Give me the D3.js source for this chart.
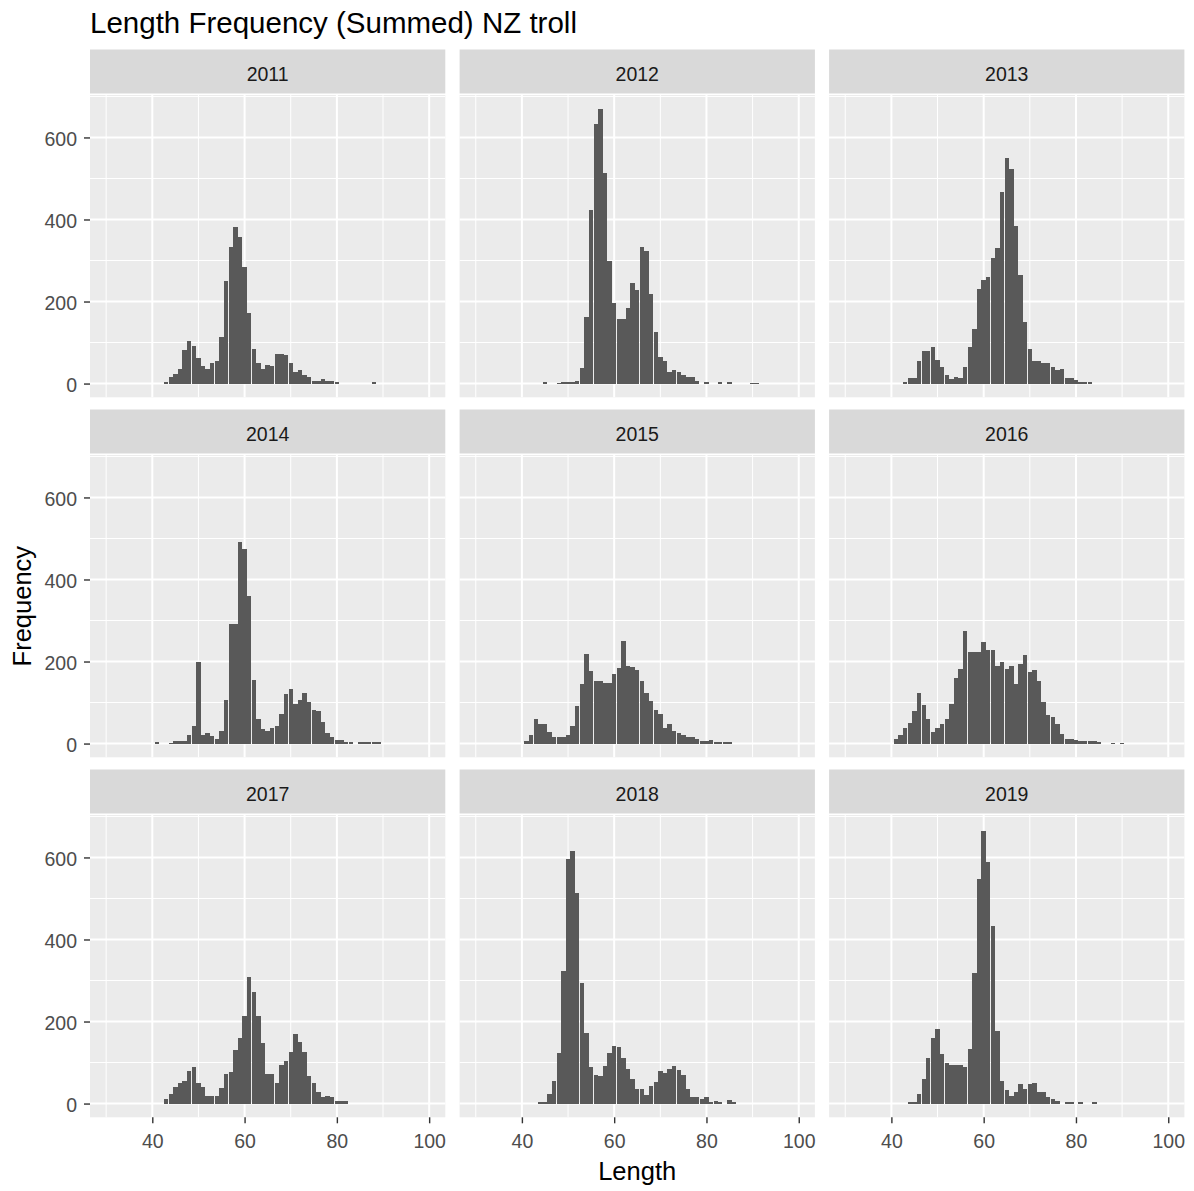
<!DOCTYPE html>
<html>
<head>
<meta charset="utf-8">
<script src="https://cdn.jsdelivr.net/npm/d3@7"></script>
<style>
  body { margin: 0; background: #ffffff; }
  text { font-family: "Liberation Sans", Arial, sans-serif; }
</style>
</head>
<body>
<svg id="chart" width="1194" height="1191"></svg>
<script>
// Facet labels, one panel per year
const years = ["2011", "2012", "2013", "2014", "2015", "2016", "2017", "2018", "2019"];

// Summed length frequencies per year: [length, frequency]
const freq2011 = [[43,4],[44,15],[45,24],[46,36],[47,81],[48,103],[49,91],[50,63],[51,42],[52,36],[53,50],[54,54],[55,114],[56,249],[57,333],[58,381],[59,358],[60,284],[61,173],[62,85],[63,50],[64,36],[65,46],[66,42],[67,72],[68,72],[69,69],[70,50],[71,28],[72,32],[73,21],[74,16],[75,6],[76,6],[77,10],[78,6],[79,6],[80,5],[88,5]];
const freq2012 = [[45,3],[48,2],[49,3],[50,3],[51,4],[52,7],[53,38],[54,162],[55,422],[56,633],[57,670],[58,514],[59,299],[60,196],[61,158],[62,158],[63,184],[64,245],[65,229],[66,333],[67,324],[68,219],[69,126],[70,65],[71,56],[72,28],[73,32],[74,28],[75,21],[76,16],[77,16],[78,6],[80,3],[83,3],[85,3],[90,2],[91,2]];
const freq2013 = [[43,5],[44,14],[45,14],[46,54],[47,79],[48,79],[49,89],[50,58],[51,40],[52,20],[53,10],[54,17],[55,14],[56,40],[57,89],[58,133],[59,230],[60,252],[61,261],[62,306],[63,331],[64,466],[65,549],[66,522],[67,384],[68,265],[69,150],[70,84],[71,54],[72,54],[73,50],[74,50],[75,40],[76,32],[77,35],[78,14],[79,14],[80,9],[81,5],[82,5],[83,5]];
const freq2014 = [[41,3],[44,2],[45,7],[46,7],[47,7],[48,22],[49,43],[50,198],[51,22],[52,26],[53,18],[54,12],[55,31],[56,106],[57,291],[58,291],[59,491],[60,474],[61,359],[62,155],[63,59],[64,35],[65,31],[66,39],[67,43],[68,71],[69,122],[70,132],[71,97],[72,105],[73,124],[74,101],[75,83],[76,79],[77,53],[78,26],[79,16],[80,8],[81,8],[82,4],[83,4],[85,3],[86,3],[87,3],[88,3],[89,3]];
const freq2015 = [[41,6],[42,20],[43,60],[44,47],[45,47],[46,28],[47,16],[48,16],[49,16],[50,22],[51,42],[52,91],[53,144],[54,219],[55,178],[56,152],[57,152],[58,148],[59,148],[60,170],[61,184],[62,250],[63,188],[64,187],[65,180],[66,152],[67,123],[68,104],[69,83],[70,71],[71,38],[72,47],[73,30],[74,26],[75,22],[76,16],[77,16],[78,12],[79,6],[80,6],[81,8],[82,3],[83,3],[84,3],[85,3]];
const freq2016 = [[41,12],[42,22],[43,39],[44,51],[45,79],[46,123],[47,95],[48,61],[49,29],[50,39],[51,47],[52,61],[53,96],[54,159],[55,181],[56,274],[57,224],[58,224],[59,224],[60,247],[61,229],[62,229],[63,190],[64,198],[65,181],[66,190],[67,145],[68,194],[69,216],[70,175],[71,180],[72,153],[73,102],[74,69],[75,65],[76,47],[77,24],[78,12],[79,10],[80,8],[81,6],[82,6],[83,6],[84,7],[85,4],[88,2],[90,2]];
const freq2017 = [[43,10],[44,24],[45,41],[46,51],[47,55],[48,80],[49,90],[50,51],[51,41],[52,19],[53,19],[54,19],[55,37],[56,73],[57,77],[58,130],[59,161],[60,214],[61,308],[62,271],[63,214],[64,147],[65,72],[66,72],[67,51],[68,94],[69,104],[70,126],[71,170],[72,151],[73,126],[74,68],[75,49],[76,27],[77,16],[78,19],[79,15],[80,7],[81,6],[82,6]];
const freq2018 = [[44,3],[45,3],[46,23],[47,54],[48,124],[49,322],[50,596],[51,615],[52,513],[53,295],[54,173],[55,88],[56,70],[57,66],[58,92],[59,123],[60,141],[61,137],[62,110],[63,84],[64,61],[65,35],[66,35],[67,21],[68,43],[69,53],[70,80],[71,74],[72,84],[73,92],[74,81],[75,69],[76,35],[77,17],[78,17],[79,11],[80,17],[81,3],[82,7],[83,3],[85,8],[86,3]];
const freq2019 = [[44,5],[45,5],[46,24],[47,59],[48,112],[49,161],[50,182],[51,120],[52,100],[53,93],[54,93],[55,93],[56,89],[57,134],[58,319],[59,547],[60,665],[61,588],[62,434],[63,178],[64,55],[65,32],[66,19],[67,28],[68,47],[69,36],[70,47],[71,51],[72,28],[73,28],[74,15],[75,10],[76,6],[78,4],[79,4],[81,4],[84,4]];

const series = [freq2011, freq2012, freq2013, freq2014, freq2015, freq2016, freq2017, freq2018, freq2019];

// Axis breaks
const xLimits = [30, 100];
const xTicks = [40, 60, 80, 100];
const xMinor = [30, 50, 70, 90];
const yTicks = [0, 200, 400, 600];
const yMinor = [100, 300, 500, 700];

const chartTitle = "Length Frequency (Summed) NZ troll";
const xTitle = "Length";
const yTitle = "Frequency";

// Layout
const colX = [90, 459.6, 829.1];
const panelW = 355.3;
const stripTop0 = 49.5, rowStep = 360, stripH = 44, stripGap = 1.5, panelH = 302.3;
const barWidth = 0.95;

const svg = d3.select("#chart");
svg.append("rect").attr("width", 1194).attr("height", 1191).attr("fill", "#ffffff");

const maxCount = d3.max(series, s => d3.max(s, d => d[1]));
const xPad = 0.05 * (xLimits[1] - xLimits[0]);
const x = d3.scaleLinear().domain([xLimits[0] - xPad, xLimits[1] + xPad]).range([0, panelW]);
const y = d3.scaleLinear().domain([-0.05 * maxCount, 1.05 * maxCount]).range([panelH, 0]);

years.forEach((yr, i) => {
  const col = i % 3, row = Math.floor(i / 3);
  const sx = colX[col];
  const sTop = stripTop0 + row * rowStep;
  const pTop = sTop + stripH + stripGap;

  // strip
  const strip = svg.append("g").attr("transform", `translate(${sx},${sTop})`);
  strip.append("rect").attr("width", panelW).attr("height", stripH).attr("fill", "#D9D9D9");
  strip.append("text").attr("x", panelW / 2).attr("y", 31)
    .attr("text-anchor", "middle").attr("font-size", 19.5).attr("fill", "#1A1A1A").text(yr);

  // panel
  const g = svg.append("g").attr("transform", `translate(${sx},${pTop})`);
  g.append("rect").attr("width", panelW).attr("height", panelH).attr("fill", "#EBEBEB");

  g.selectAll("line.xminor").data(xMinor).join("line")
    .attr("x1", d => x(d)).attr("x2", d => x(d)).attr("y1", 0).attr("y2", panelH)
    .attr("stroke", "#ffffff").attr("stroke-width", 1);
  g.selectAll("line.yminor").data(yMinor.filter(v => v <= y.domain()[1])).join("line")
    .attr("y1", d => y(d)).attr("y2", d => y(d)).attr("x1", 0).attr("x2", panelW)
    .attr("stroke", "#ffffff").attr("stroke-width", 1);
  g.append("g").selectAll("line").data(xTicks).join("line")
    .attr("x1", d => x(d)).attr("x2", d => x(d)).attr("y1", 0).attr("y2", panelH)
    .attr("stroke", "#ffffff").attr("stroke-width", 2);
  g.append("g").selectAll("line").data(yTicks).join("line")
    .attr("y1", d => y(d)).attr("y2", d => y(d)).attr("x1", 0).attr("x2", panelW)
    .attr("stroke", "#ffffff").attr("stroke-width", 2);

  // bars
  g.append("g").attr("shape-rendering", "crispEdges")
    .selectAll("rect").data(series[i]).join("rect")
    .attr("x", d => x(d[0] - barWidth / 2))
    .attr("width", d => x(d[0] + barWidth / 2) - x(d[0] - barWidth / 2))
    .attr("y", d => y(d[1]))
    .attr("height", d => y(0) - y(d[1]))
    .attr("fill", "#595959");

  // y axis on the first column
  if (col === 0) {
    const ay = g.append("g").call(d3.axisLeft(y).tickValues(yTicks).tickSize(6).tickPadding(7).tickSizeOuter(0));
    ay.select(".domain").remove();
    ay.selectAll("line").attr("stroke", "#333333").attr("stroke-width", 1.4);
    ay.selectAll("text").attr("font-size", 19.5).attr("fill", "#4D4D4D")
      .attr("font-family", "'Liberation Sans', Arial, sans-serif").attr("dy", "0.42em");
  }
  // x axis under the bottom row
  if (row === 2) {
    const ax = g.append("g").attr("transform", `translate(0,${panelH})`)
      .call(d3.axisBottom(x).tickValues(xTicks).tickSize(6).tickPadding(11).tickSizeOuter(0));
    ax.select(".domain").remove();
    ax.selectAll("line").attr("stroke", "#333333").attr("stroke-width", 1.4);
    ax.selectAll("text").attr("font-size", 19.5).attr("fill", "#4D4D4D")
      .attr("font-family", "'Liberation Sans', Arial, sans-serif").attr("dy", "0.71em");
  }
});

// titles
svg.append("text").attr("x", 90).attr("y", 33).attr("font-size", 29.5).attr("fill", "#000000").text(chartTitle);
svg.append("text").attr("x", (colX[0] + colX[2] + panelW) / 2).attr("y", 1180)
  .attr("text-anchor", "middle").attr("font-size", 25.5).attr("fill", "#000000").text(xTitle);
const midY = (stripTop0 + stripH + stripGap + 2 * rowStep + stripTop0 + stripH + stripGap + panelH) / 2;
svg.append("text").attr("transform", `translate(31,${midY}) rotate(-90)`)
  .attr("text-anchor", "middle").attr("font-size", 25.5).attr("fill", "#000000").text(yTitle);
</script>
</body>
</html>
